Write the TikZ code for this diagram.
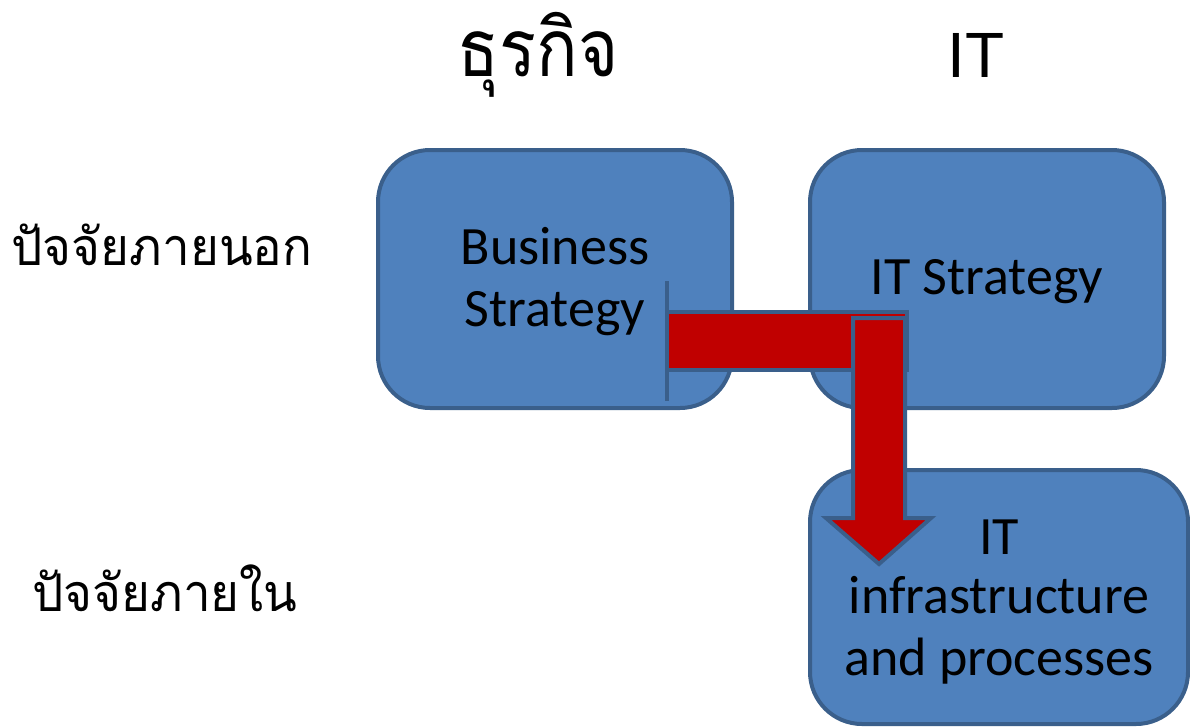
\documentclass[tikz,border=0pt]{standalone}
\usepackage{fontspec}
\setmainfont{Carlito}
\newfontfamily\thaihead[Script=Thai,FakeStretch=0.86]{Loma}
\newfontfamily\thaiside[Script=Thai,FakeStretch=0.95]{Loma}
\newfontfamily\headsans{Liberation Sans}
\usepackage{xcolor}
\usetikzlibrary{positioning}
\definecolor{boxblue}{HTML}{4F81BD}
\definecolor{boxline}{HTML}{3A5F8B}
\definecolor{arrowred}{HTML}{C00000}

\begin{document}
\begin{tikzpicture}[x=1pt,y=-1pt,
    blok/.style={draw=boxline,line width=4pt,fill=boxblue,rounded corners=52pt,
        minimum width=354pt,minimum height=258pt,inner sep=0pt},
    boxtext/.style={align=center,inner sep=0pt,yshift=-3pt,
        font=\fontsize{54}{62}\selectfont},
    headlbl/.style={font=\thaihead\fontsize{80}{80}\selectfont,inner sep=0pt},
    sidelbl/.style={font=\thaiside\fontsize{52}{52}\selectfont,inner sep=0pt},
    redpart/.style={fill=arrowred,draw=boxline,line width=4pt}]
\useasboundingbox (0,0) rectangle (1190,726);
% column and row titles
\node[headlbl] (biz) at (538,55) {ธุรกิจ};
\node[font=\headsans\fontsize{64}{64}\selectfont,inner sep=0pt] (itcol) at (976,55) {IT};
\node[sidelbl] (outside) at (162,245) {ปัจจัยภายนอก};
\node[sidelbl] (inside) at (165,588) {ปัจจัยภายใน};
% the three blocks
\node[blok,label={[boxtext]center:{Business\\Strategy}}] (bstrat) at (555,279) {};
\node[blok,label={[boxtext]center:IT Strategy}] (itstrat) at (987,279) {};
\node[blok,minimum width=378pt,minimum height=254pt,
    label={[boxtext,yshift=-2pt]center:{\raisebox{-3pt}{IT}\\infrastructure\\and processes}}] (itinfra) at (999,597) {};
% bent arrow
\draw[boxline,line width=3.5pt] (667,281) -- (667,401);
\draw[redpart] (667,312) rectangle (907,370);
\draw[redpart] (853,318) -- (905,318) -- (905,518) -- (931,518) -- (879,564)
    -- (826,518) -- (853,518) -- cycle;
\end{tikzpicture}
\end{document}
